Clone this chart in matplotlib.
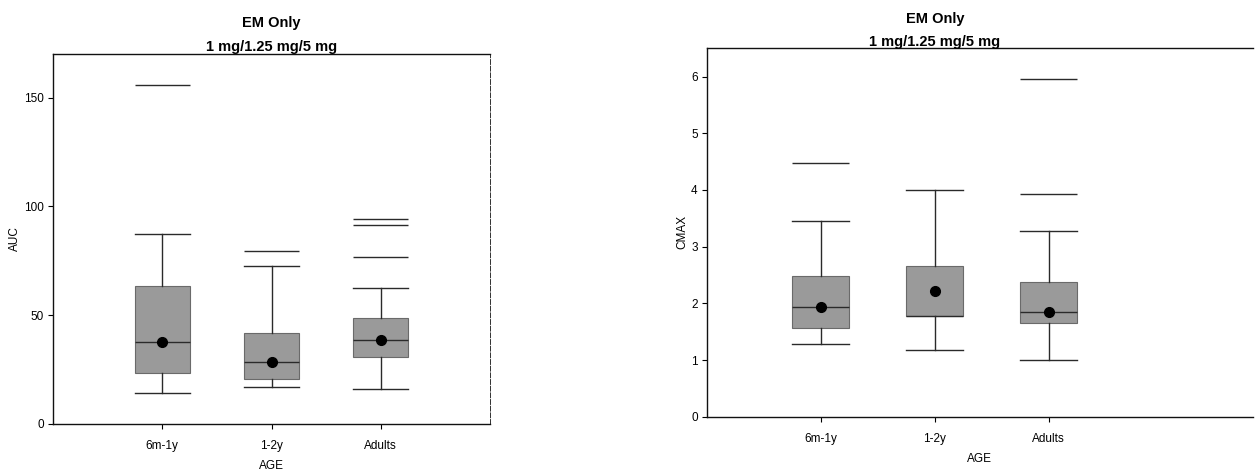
import matplotlib.pyplot as plt
from matplotlib.transforms import blended_transform_factory

plt.rcParams["font.family"] = ["Liberation Sans", "DejaVu Sans"]

AGE_GROUPS = ["6m-1y", "1-2y", "Adults"]

# AUC panel
auc_whislo = [14.4, 17.2, 16.0]
auc_q1 = [23.6, 20.6, 30.7]
auc_med = [37.9, 28.7, 38.7]
auc_q3 = [63.6, 41.8, 48.5]
auc_whishi = [87.5, 72.5, 62.5]
auc_mean = [37.9, 28.7, 38.7]
auc_outliers = [[155.8], [79.4], [94.3, 91.2, 76.8]]

# CMAX panel
cmax_whislo = [1.29, 1.18, 1.00]
cmax_q1 = [1.56, 1.78, 1.65]
cmax_med = [1.93, 1.78, 1.85]
cmax_q3 = [2.49, 2.66, 2.37]
cmax_whishi = [3.46, 4.00, 3.28]
cmax_mean = [1.93, 2.22, 1.85]
cmax_outliers = [[4.48], [], [5.95, 3.93]]

BOX_W = 0.5
BOX_FACE = "#9a9a9a"
LINE_C = "#2a2a2a"


def make_stats(whislo, q1, med, q3, whishi, mean):
    stats = []
    for i, name in enumerate(AGE_GROUPS):
        stats.append(
            {
                "label": name,
                "whislo": whislo[i],
                "q1": q1[i],
                "med": med[i],
                "q3": q3[i],
                "whishi": whishi[i],
                "mean": mean[i],
                "fliers": [],
            }
        )
    return stats


def draw_panel(ax, stats, outliers, ylabel, yticks, ylim, xlim):
    pos = list(range(1, len(stats) + 1))
    ax.bxp(
        stats,
        positions=pos,
        widths=BOX_W,
        capwidths=BOX_W,
        patch_artist=True,
        showmeans=True,
        showfliers=False,
        boxprops=dict(facecolor=BOX_FACE, edgecolor="#6a6a6a", linewidth=0.8),
        medianprops=dict(color=LINE_C, linewidth=1.0),
        whiskerprops=dict(color=LINE_C, linewidth=1.0),
        capprops=dict(color=LINE_C, linewidth=1.0),
        meanprops=dict(
            marker="o", markerfacecolor="black", markeredgecolor="black", markersize=7
        ),
    )
    # outliers shown as horizontal bars the width of the box
    for p, vals in zip(pos, outliers):
        if vals:
            ax.hlines(
                vals, p - BOX_W / 2, p + BOX_W / 2, color=LINE_C, linewidth=1.0
            )
    ax.set_xlim(*xlim)
    ax.set_ylim(*ylim)
    ax.set_yticks(yticks)
    ax.set_xticks(pos)
    ax.set_xticklabels(AGE_GROUPS)
    ax.set_xlabel("AGE", fontsize=8.5, labelpad=6)
    ax.set_ylabel(ylabel, fontsize=8.5, labelpad=2)
    ax.tick_params(axis="both", labelsize=8.5, length=3.5, width=0.8, pad=3)
    ax.tick_params(axis="x", pad=8)
    for s in ax.spines.values():
        s.set_linewidth(1.0)
        s.set_color("#111111")


fig = plt.figure(figsize=(12.57, 4.71), dpi=100)
fig.patch.set_facecolor("white")

ax1 = fig.add_axes([0.0422, 0.0998, 0.3476, 0.7856])
draw_panel(
    ax1,
    make_stats(auc_whislo, auc_q1, auc_med, auc_q3, auc_whishi, auc_mean),
    auc_outliers,
    "AUC",
    [0, 50, 100, 150],
    (0, 170),
    (0, 4),
)
ax1.spines["right"].set_linewidth(0.6)
ax1.spines["right"].set_linestyle((0, (6, 2)))

ax2 = fig.add_axes([0.5622, 0.1153, 0.4346, 0.7834])
draw_panel(
    ax2,
    make_stats(cmax_whislo, cmax_q1, cmax_med, cmax_q3, cmax_whishi, cmax_mean),
    cmax_outliers,
    "CMAX",
    [0, 1, 2, 3, 4, 5, 6],
    (0, 6.51),
    (0, 4.79),
)
ax2.spines["right"].set_visible(False)

# titles centred over the middle group
for ax, y1, y2 in [(ax1, 0.951, 0.901), (ax2, 0.959, 0.910)]:
    tr = blended_transform_factory(ax.transData, fig.transFigure)
    ax.text(2, y1, "EM Only", transform=tr, ha="center", va="center",
            fontsize=10.5, fontweight="bold")
    ax.text(2, y2, "1 mg/1.25 mg/5 mg", transform=tr, ha="center", va="center",
            fontsize=10.5, fontweight="bold")

plt.savefig("out.png", dpi=100)
plt.close()
